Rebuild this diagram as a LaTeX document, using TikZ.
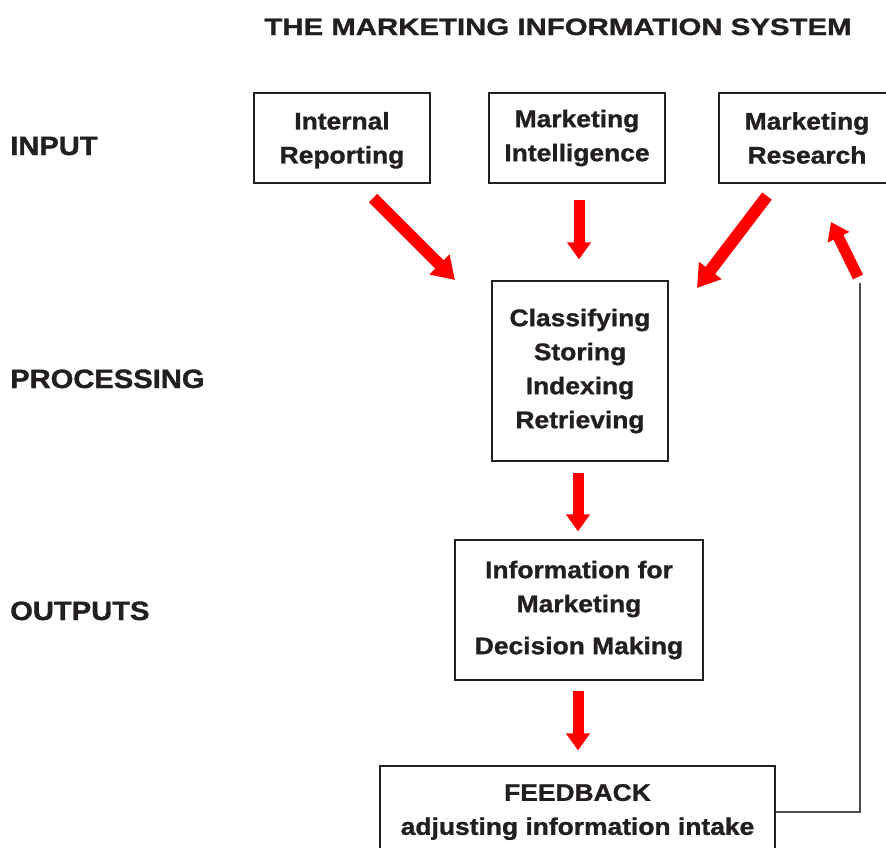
\documentclass[tikz,border=0pt]{standalone}
\usepackage{fontspec}
\setmainfont{Liberation Sans}[FakeStretch=1.1, BoldFeatures={FakeBold=1.2}]
\newfontfamily\titlefont{Liberation Sans}[FakeStretch=1.24, BoldFeatures={FakeBold=1.2}]
\usetikzlibrary{arrows.meta,calc}
\definecolor{ink}{RGB}{35,31,32}
\definecolor{arrred}{RGB}{255,0,0}
\tikzset{
  box/.style={draw=ink, line width=2.8pt, align=center, inner sep=0pt,
    text=ink, font=\fontsize{24}{34}\selectfont\bfseries},
  sidelabel/.style={anchor=base west, inner sep=0pt, text=ink,
    font=\fontsize{26.5}{30}\selectfont\bfseries},
  redarrow/.style={draw=arrred, line width=11pt,
    -{Triangle[length=17pt,width=23pt]}},
  bigredarrow/.style={draw=arrred, line width=12pt,
    -{Triangle[length=22pt,width=27pt]}},
  fbline/.style={draw=ink!80, line width=1.2pt}
}
\begin{document}
\begin{tikzpicture}[x=1pt,y=-1pt]
\useasboundingbox (0,0) rectangle (886,847);
\clip (0,0) rectangle (886,847);
% title
\node[anchor=base, inner sep=0pt, text=ink, font=\titlefont\fontsize{23.7}{28}\selectfont\bfseries] (title) at (558,35) {THE MARKETING INFORMATION SYSTEM};
% side labels
\node[sidelabel] (lin) at (10,155) {INPUT};
\node[sidelabel] (lproc) at (10,388) {PROCESSING};
\node[sidelabel] (lout) at (10,620) {OUTPUTS};
% boxes
\node[box, minimum width=176pt, minimum height=90pt] (ir) at (342,138) {\rule{0pt}{22pt}Internal\\Reporting};
\node[box, minimum width=176pt, minimum height=90pt] (mi) at (577,138) {Marketing\\Intelligence};
\node[box, minimum width=176pt, minimum height=90pt] (mr) at (807,138) {Marketing\\Research};
\node[box, minimum width=176pt, minimum height=180pt] (cl) at (580,371) {Classifying\\Storing\\Indexing\\Retrieving};
\node[box, minimum width=248pt, minimum height=140pt] (info) at (579,610) {Information for\\Marketing\\[8pt]Decision Making};
\node[box, minimum width=395pt, minimum height=92pt] (fb) at (577.5,812) {FEEDBACK\\adjusting information intake};
% arrow end points
\coordinate (a1s) at (373,198); \coordinate (a1e) at (455,280);
\coordinate (a3s) at (767,196); \coordinate (a3e) at (697,288);
\coordinate (a6s) at (858,277); \coordinate (a6e) at (831,222);
\coordinate (fbtop) at (860,283);
% arrows
\draw[bigredarrow] (a1s) -- (a1e);
\draw[redarrow] ($(mi.south)+(2,16)$) -- ($(mi.south)+(2,75)$);
\draw[bigredarrow] (a3s) -- (a3e);
\draw[redarrow] ($(cl.south)+(-2,11)$) -- ($(cl.south)+(-2,69)$);
\draw[redarrow] ($(info.south)+(-1,10)$) -- ($(info.south)+(-1,69)$);
\draw[redarrow] (a6s) -- (a6e);
% feedback line
\draw[fbline] (fb.east) -| (fbtop);
\end{tikzpicture}
\end{document}
